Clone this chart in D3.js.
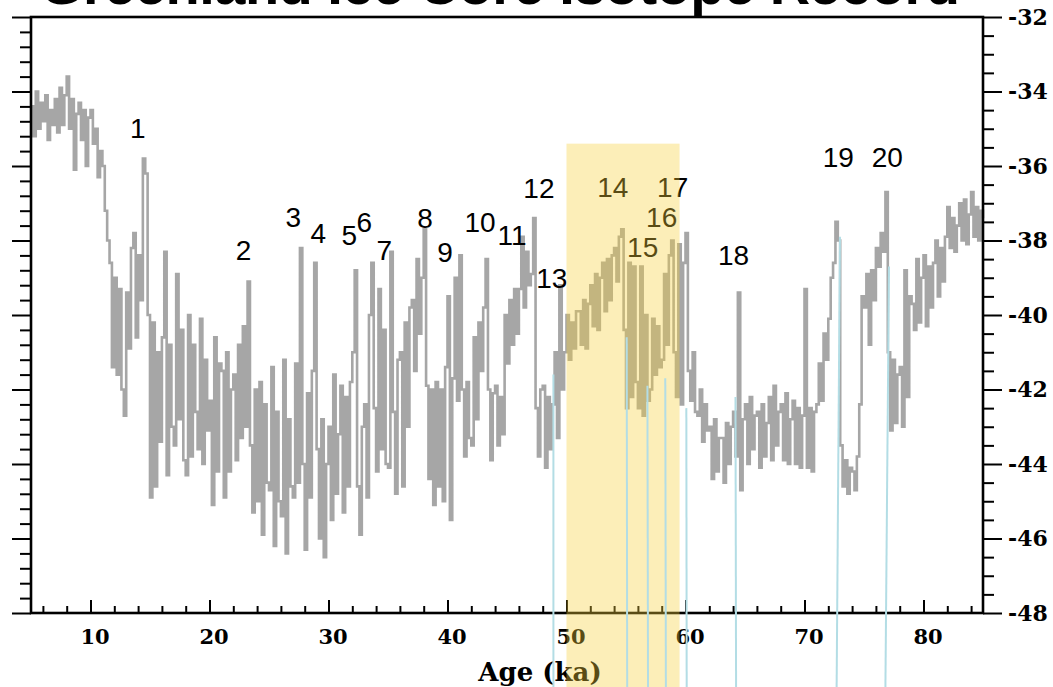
<!DOCTYPE html>
<html>
<head>
<meta charset="utf-8">
<script src="https://cdn.jsdelivr.net/npm/d3@7"></script>
<style>
  body { margin: 0; background: #fff; }
  svg { display: block; }
</style>
</head>
<body>
<svg id="chart" width="1053" height="687"></svg>
<script>
// NGRIP d18O, every 0.2 ka starting at 5 ka (one row per ka)
const ageStart = 5;
const ageStep = 0.2;
const d18O = [
  -34.4, -35.2, -34.0, -35.0, -34.3,   // 5
  -34.8, -34.1, -35.3, -34.5, -34.9,
  -34.2, -35.1, -33.9, -34.9, -34.1,
  -33.6, -35.0, -34.2, -36.1, -34.6,
  -34.3, -35.3, -34.5, -36.0, -34.7,
  -34.5, -35.4, -35.0, -36.3, -35.6,   // 10
  -36.0, -37.2, -38.0, -38.6, -41.4,
  -39.0, -41.6, -39.3, -42.0, -42.7,
  -39.4, -40.9, -38.2, -37.8, -40.6,
  -38.4, -39.6, -35.8, -36.2, -40.0,
  -44.9, -40.2, -44.6, -41.0, -43.4,   // 15
  -40.6, -38.3, -44.3, -40.8, -43.0,
  -43.5, -38.9, -42.8, -40.4, -43.9,
  -44.3, -40.0, -43.8, -40.8, -42.6,
  -43.6, -40.1, -44.0, -41.2, -43.1,
  -42.3, -45.1, -40.6, -44.2, -41.3,   // 20
  -41.5, -44.9, -41.0, -44.2, -42.0,
  -41.6, -43.9, -40.8, -43.3, -40.3,
  -43.0, -39.1, -43.5, -45.3, -42.0,
  -45.0, -41.8, -45.9, -42.4, -44.5,
  -44.7, -41.4, -46.2, -42.6, -45.0,   // 25
  -45.4, -41.2, -46.4, -42.8, -44.6,
  -44.9, -41.3, -44.5, -38.2, -44.0,
  -46.3, -42.1, -44.9, -41.5, -38.6,
  -43.6, -46.0, -42.8, -46.5, -44.0,
  -43.0, -45.5, -41.6, -44.8, -43.2,   // 30
  -41.9, -45.3, -42.2, -44.6, -41.8,
  -41.0, -38.8, -44.6, -45.9, -43.0,
  -42.4, -44.9, -40.0, -38.6, -42.5,
  -44.2, -39.3, -43.6, -40.4, -44.0,
  -44.1, -38.3, -42.6, -44.8, -41.2,   // 35
  -41.0, -44.6, -40.2, -43.0, -39.8,
  -39.6, -41.5, -38.5, -40.5, -39.0,
  -37.7, -41.9, -44.4, -42.0, -45.1,
  -41.8, -44.6, -42.0, -45.0, -41.4,
  -39.5, -45.5, -41.7, -39.0, -42.3,   // 40
  -38.4, -42.0, -43.8, -41.8, -43.3,
  -43.5, -40.6, -42.8, -40.2, -41.5,
  -39.8, -38.5, -42.0, -43.9, -42.1,
  -41.9, -43.5, -42.2, -43.2, -40.0,
  -41.3, -39.6, -40.8, -39.3, -40.5,   // 45
  -39.3, -37.9, -39.8, -38.3, -39.2,
  -38.9, -37.4, -42.5, -43.8, -42.0,
  -41.9, -44.1, -42.2, -43.6, -42.4,
  -41.0, -43.3, -39.2, -42.0, -41.0,
  -40.0, -41.2, -40.2, -40.9, -39.9,   // 50
  -39.9, -40.8, -39.6, -40.9, -39.7,
  -39.2, -40.3, -38.9, -40.4, -39.0,
  -38.6, -39.9, -38.5, -39.6, -38.4,
  -38.2, -39.1, -37.9, -37.7, -40.4,
  -42.5, -38.6, -42.2, -38.7, -41.8,   // 55
  -42.5, -38.7, -42.7, -40.0, -42.3,
  -42.0, -40.1, -41.6, -40.3, -41.4,
  -41.2, -38.9, -40.8, -38.4, -38.0,
  -41.0, -42.2, -38.1, -42.4, -38.6,
  -37.8, -41.5, -42.3, -41.0, -42.6,   // 60
  -42.7, -42.0, -43.4, -42.4, -43.1,
  -43.0, -44.4, -42.8, -44.2, -43.3,
  -43.3, -44.5, -42.9, -44.0, -43.0,
  -42.6, -43.8, -39.4, -44.7, -42.8,
  -42.4, -44.0, -42.2, -43.6, -42.7,   // 65
  -42.6, -44.1, -42.4, -43.8, -42.9,
  -42.2, -43.9, -41.9, -43.5, -42.6,
  -42.4, -43.9, -42.1, -44.0, -42.8,
  -42.3, -44.0, -42.5, -44.1, -42.7,
  -39.3, -44.1, -42.5, -44.2, -42.6,   // 70
  -42.4, -41.3, -42.3, -40.5, -41.2,
  -40.1, -39.0, -38.6, -37.5, -38.0,
  -43.5, -44.6, -43.9, -44.8, -44.1,
  -44.2, -44.7, -43.8, -42.4, -39.5,
  -39.8, -38.9, -40.8, -38.8, -39.6,   // 75
  -38.2, -38.7, -37.8, -38.3, -36.7,
  -41.0, -43.1, -41.2, -42.9, -41.6,
  -41.4, -43.0, -38.8, -42.2, -39.5,
  -39.7, -40.4, -38.5, -40.2, -39.0,
  -38.4, -40.3, -38.7, -39.8, -38.6,   // 80
  -38.0, -39.5, -38.2, -39.1, -37.9,
  -37.1, -38.2, -37.4, -38.3, -37.6,
  -37.0, -38.0, -36.9, -38.1, -37.3,
  -36.7, -37.9, -37.1, -38.0, -37.2,
  -37.4                                 // 85
];

// event numbers and where they sit (age, value of text baseline)
const eventNames = ["1","2","3","4","5","6","7","8","9","10","11","12","13","14","15","16","17","18","19","20"];
const eventAges  = [13.97, 22.86, 27.05, 29.15, 31.75, 33.01, 34.69, 38.12, 39.80, 42.74,
                    45.42, 47.68, 48.77, 53.89, 56.40, 58.00, 58.92, 64.04, 72.84, 76.95];
const eventVals  = [-35.25, -38.52, -37.64, -38.07, -38.12, -37.77, -38.52, -37.66, -38.58, -37.77,
                    -38.12, -36.86, -39.28, -36.83, -38.44, -37.64, -36.83, -38.66, -36.03, -36.03];

// tie lines (light blue)
const tieAgeTop    = [48.90, 55.06, 56.80, 58.30, 60.07, 64.20, 72.98, 77.10];
const tieAgeBottom = [48.90, 55.10, 56.85, 58.35, 60.10, 64.25, 72.70, 76.80];
const tieValTop    = [-41.6, -40.6, -41.9, -41.7, -42.5, -42.2, -37.9, -38.7];

// shaded interval
const bandAges = [50, 59.5];
const bandTop = -35.4;

const xMajor = [10, 20, 30, 40, 50, 60, 70, 80];
const xMinor = [6, 8, 12, 14, 16, 18, 22, 24, 26, 28, 32, 34, 36, 38, 42, 44, 46, 48,
                52, 54, 56, 58, 62, 64, 66, 68, 72, 74, 76, 78, 82, 84];
const yMajor = [-32, -34, -36, -38, -40, -42, -44, -46, -48];
const yMinorRight = [-32.5, -33, -33.5, -34.5, -35, -35.5, -36.5, -37, -37.5, -38.5, -39, -39.5,
                     -40.5, -41, -41.5, -42.5, -43, -43.5, -44.5, -45, -45.5, -46.5, -47, -47.5];
const yMinorLeft = [-32.4, -32.8, -33.2, -33.6, -34.4, -34.8, -35.2, -35.6, -36.4, -36.8, -37.2, -37.6,
                    -38.4, -38.8, -39.2, -39.6, -40.4, -40.8, -41.2, -41.6, -42.4, -42.8, -43.2, -43.6,
                    -44.4, -44.8, -45.2, -45.6, -46.4, -46.8, -47.2, -47.6];

const titleText = "Greenland Ice Core Isotope Record";

const W = 1053, H = 687;
const svg = d3.select('#chart');

const x = d3.scaleLinear().domain([5, 85]).range([31, 983]);
const y = d3.scaleLinear().domain([-32, -48]).range([17, 613]);

// title, almost entirely above the top edge
svg.append('text')
  .attr('x', 500).attr('y', 4)
  .attr('text-anchor', 'middle')
  .attr('font-family', '"Liberation Sans", Arial, sans-serif')
  .attr('font-weight', 'bold')
  .attr('font-size', 56)
  .attr('textLength', 920)
  .attr('lengthAdjust', 'spacing')
  .text(titleText);

// data line (stepped record)
const series = d18O.map((v, i) => [ageStart + i * ageStep, v]);
svg.append('path')
  .datum(series)
  .attr('fill', 'none')
  .attr('stroke', '#a6a6a6')
  .attr('stroke-width', 2.6)
  .attr('d', d3.line().x(d => x(d[0])).y(d => y(d[1])).curve(d3.curveStepAfter));

// axes
const serif = '"DejaVu Serif", "Liberation Serif", serif';

const bottom = svg.append('g').attr('transform', `translate(0,${y(-48)})`);
bottom.append('g')
  .call(d3.axisBottom(x).tickValues(xMajor).tickSize(-13).tickPadding(16).tickFormat(d => d))
  .call(g => g.select('.domain').remove())
  .call(g => g.selectAll('line').attr('stroke-width', 2))
  .call(g => g.selectAll('text').attr('dx', 4).attr('fill', '#000'))
  .attr('font-family', serif).attr('font-weight', 'bold').attr('font-size', 21);
bottom.append('g')
  .call(d3.axisBottom(x).tickValues(xMinor).tickSize(-7).tickFormat(''))
  .call(g => g.select('.domain').remove())
  .call(g => g.selectAll('line').attr('stroke-width', 2));

const right = svg.append('g').attr('transform', `translate(${x(85)},0)`);
right.append('g')
  .call(d3.axisRight(y).tickValues(yMajor).tickSize(19).tickPadding(6).tickFormat(d => String(d)))
  .call(g => g.select('.domain').remove())
  .call(g => g.selectAll('line').attr('stroke-width', 2))
  .call(g => g.selectAll('text').attr('fill', '#000'))
  .attr('font-family', serif).attr('font-weight', 'bold').attr('font-size', 22);
right.append('g')
  .call(d3.axisRight(y).tickValues(yMinorRight).tickSize(11).tickFormat(''))
  .call(g => g.select('.domain').remove())
  .call(g => g.selectAll('line').attr('stroke-width', 2));

const left = svg.append('g').attr('transform', `translate(${x(5)},0)`);
left.append('g')
  .call(d3.axisLeft(y).tickValues(yMajor).tickSize(19).tickFormat(''))
  .call(g => g.select('.domain').remove())
  .call(g => g.selectAll('line').attr('stroke-width', 2));
left.append('g')
  .call(d3.axisLeft(y).tickValues(yMinorLeft).tickSize(11).tickFormat(''))
  .call(g => g.select('.domain').remove())
  .call(g => g.selectAll('line').attr('stroke-width', 2));

// frame
svg.append('rect')
  .attr('x', x(5)).attr('y', y(-32))
  .attr('width', x(85) - x(5)).attr('height', y(-48) - y(-32))
  .attr('fill', 'none').attr('stroke', '#000').attr('stroke-width', 2.6);

svg.append('text')
  .attr('x', 540).attr('y', 681)
  .attr('text-anchor', 'middle')
  .attr('font-family', serif).attr('font-weight', 'bold').attr('font-size', 26)
  .text('Age (ka)');

// event numbers
svg.append('g')
  .selectAll('text')
  .data(eventNames)
  .join('text')
  .attr('x', (d, i) => x(eventAges[i]))
  .attr('y', (d, i) => y(eventVals[i]))
  .attr('text-anchor', 'middle')
  .attr('font-family', '"Liberation Sans", Arial, sans-serif')
  .attr('font-size', 28)
  .text(d => d);

// shaded interval over everything, semi-transparent
svg.append('rect')
  .attr('x', x(bandAges[0])).attr('y', y(bandTop))
  .attr('width', x(bandAges[1]) - x(bandAges[0]))
  .attr('height', H - y(bandTop))
  .attr('fill', '#f7cf3a').attr('fill-opacity', 0.36);

// tie lines
svg.append('g')
  .selectAll('line')
  .data(tieAgeTop)
  .join('line')
  .attr('x1', (d, i) => x(d)).attr('y1', (d, i) => y(tieValTop[i]))
  .attr('x2', (d, i) => x(tieAgeBottom[i])).attr('y2', H)
  .attr('stroke', '#b3dde5').attr('stroke-width', 2);
</script>
</body>
</html>
